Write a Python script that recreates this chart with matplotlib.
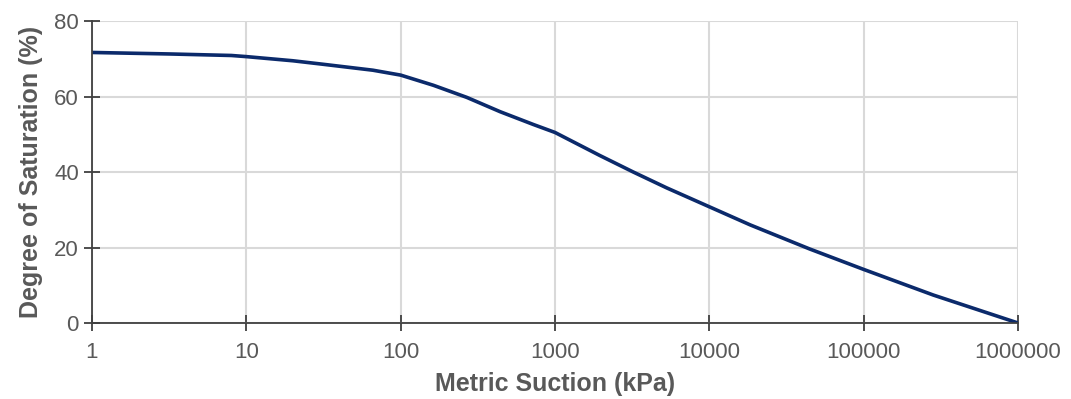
import matplotlib
matplotlib.use("Agg")
import matplotlib.pyplot as plt
from matplotlib.ticker import FixedLocator, FixedFormatter, NullLocator

suction = [1, 3.2, 8, 10, 20, 31, 66, 100, 163, 268, 441, 725, 1000, 1950, 3220,
           5300, 10000, 18400, 44800, 100000, 283000, 1000000]
saturation = [71.7, 71.3, 70.9, 70.6, 69.5, 68.6, 67.0, 65.7, 63.0, 59.8, 56.0, 52.6,
              50.5, 44.4, 40.0, 35.8, 30.8, 26.0, 19.6, 14.2, 7.4, 0.0]
x_ticks = [1, 10, 100, 1000, 10000, 100000, 1000000]
x_tick_labels = ["1", "10", "100", "1000", "10000", "100000", "1000000"]
y_ticks = [0, 20, 40, 60, 80]

plt.rcParams['font.family'] = ['Liberation Sans', 'DejaVu Sans']
txt = '#595959'

fig = plt.figure(figsize=(10.71, 3.99), dpi=100)
ax = fig.add_axes([0.0859, 0.1905, 0.8646, 0.7565])
ax.plot(suction, saturation, color='#0b2a6b', lw=2.6, solid_capstyle='round',
        solid_joinstyle='round', zorder=3)
ax.set_xscale('log')
ax.set_xlim(1, 1000000)
ax.set_ylim(0, 80)
ax.xaxis.set_major_locator(FixedLocator(x_ticks))
ax.xaxis.set_major_formatter(FixedFormatter(x_tick_labels))
ax.xaxis.set_minor_locator(NullLocator())
ax.set_yticks(y_ticks)
ax.grid(True, color='#d9d9d9', lw=1.5, zorder=0)
for s in ['top', 'right']:
    ax.spines[s].set_visible(False)
for s in ['left', 'bottom']:
    ax.spines[s].set_color('#404040')
    ax.spines[s].set_linewidth(1.3)
    ax.spines[s].set_zorder(4)
ax.tick_params(axis='both', direction='inout', length=11, width=1.3, color='#404040',
               labelsize=16, labelcolor=txt)
ax.tick_params(axis='x', pad=8)
ax.tick_params(axis='y', pad=4)
ax.set_xlabel('Metric Suction (kPa)', fontsize=18, fontweight='bold', color=txt, labelpad=7)
ax.set_ylabel('Degree of Saturation (%)', fontsize=18, fontweight='bold', color=txt, labelpad=8)
ax.set_axisbelow(True)
fig.savefig('out.png', dpi=100)
